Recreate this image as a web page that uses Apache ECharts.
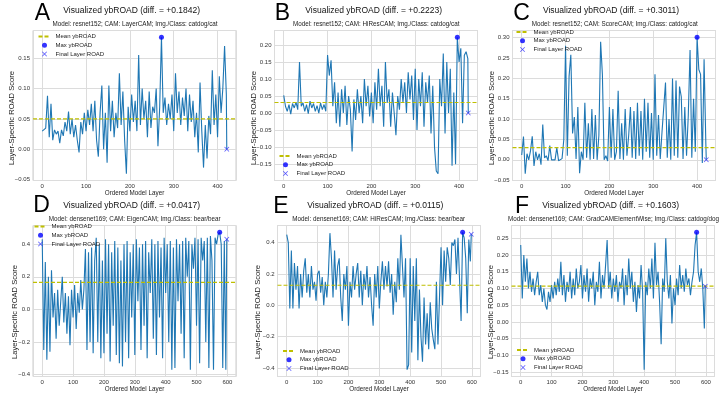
<!DOCTYPE html>
<html>
<head>
<meta charset="utf-8">
<script src="https://cdn.jsdelivr.net/npm/echarts@6/dist/echarts.min.js"></script>
<style>
  html, body { margin: 0; padding: 0; background: #fff; }
  #chart { width: 727px; height: 397px; }
</style>
</head>
<body>
<div id="chart"></div>
<script>
// layers are sampled: resnet152 panels every 4 layers, densenet169 panels every 5 layers
var stepResnet = 4;
var stepDensenet = 5;
var lastLayerResnet = 421;
var lastLayerDensenet = 598;

var roadA = [0.030,0.028,0.035,0.088,0.020,0.075,0.015,0.032,0.025,0.030,
  0.010,0.032,0.022,0.045,0.030,0.062,0.025,0.050,0.020,0.040,
  0.015,-0.005,0.045,0.025,0.060,0.030,0.065,0.040,0.075,0.030,
  0.080,0.015,-0.012,0.060,0.105,0.000,0.060,-0.022,0.105,0.030,
  0.080,0.020,0.060,0.035,0.125,0.040,0.095,0.015,-0.040,0.070,
  0.030,0.090,0.045,0.080,0.030,0.155,0.040,0.100,0.050,0.080,
  0.020,0.095,0.035,0.070,0.060,0.100,0.005,0.070,0.1842,0.060,
  0.085,0.040,0.075,0.050,0.090,0.030,0.125,0.060,0.095,0.040,
  0.085,0.055,0.100,0.030,0.090,0.045,0.080,0.020,0.060,-0.005,
  0.110,0.030,-0.030,0.040,-0.015,0.055,0.025,0.130,0.040,0.090,
  0.020,0.120,0.060,0.100,0.170,0.090];
var roadB = [0.052,0.020,0.005,0.025,-0.003,0.028,0.015,0.032,0.010,0.150,
  0.020,0.030,0.005,0.025,-0.002,0.035,0.015,0.028,0.005,0.022,
  0.000,0.030,0.010,0.025,0.005,0.170,0.110,0.155,0.020,0.090,
  -0.030,0.060,-0.040,0.070,0.000,0.080,-0.035,0.050,0.010,-0.113,
  0.040,-0.020,0.070,0.000,0.050,-0.030,0.100,0.020,0.080,-0.010,
  0.060,-0.030,0.090,0.010,0.130,0.020,0.080,-0.040,0.150,0.030,
  0.070,-0.040,0.060,0.000,-0.065,0.050,0.010,0.100,0.030,0.090,
  0.000,0.120,0.040,0.110,-0.020,0.130,-0.050,0.100,0.020,0.120,
  -0.040,0.090,0.030,0.110,-0.060,0.080,-0.100,-0.170,-0.178,0.100,
  0.020,0.175,-0.060,0.150,0.000,0.130,-0.155,0.060,-0.150,0.2223,
  0.150,0.190,-0.030,0.170,0.180,0.160];
var roadC = [0.012,0.057,-0.034,0.015,0.000,0.022,0.058,-0.015,0.020,0.000,
  0.015,-0.012,0.087,0.005,0.010,-0.002,0.035,0.000,0.002,0.000,
  0.030,-0.002,0.000,0.003,0.050,0.280,0.010,0.205,0.258,0.065,
  0.105,0.002,0.130,-0.033,0.020,0.000,0.140,0.005,0.090,0.000,
  0.125,0.002,0.110,0.000,0.060,0.290,0.210,0.000,0.010,-0.003,
  0.130,0.005,0.125,0.000,0.020,0.170,0.002,0.090,0.000,0.125,
  0.010,0.060,0.130,0.005,0.120,0.002,0.140,0.010,0.120,0.000,
  0.150,0.020,0.140,0.005,0.115,0.000,0.210,0.010,0.110,0.002,
  0.068,0.065,0.190,0.005,0.100,0.000,0.200,0.010,0.195,0.005,
  0.180,0.155,0.002,0.130,0.010,0.110,0.270,0.005,0.150,0.020,
  0.301,0.222,0.210,-0.008,0.247,0.040];
var roadD = [0.43,-0.25,0.29,-0.31,0.20,-0.26,0.24,-0.05,0.10,-0.18,
  0.12,-0.10,0.05,0.20,-0.08,0.10,-0.15,0.08,-0.22,0.12,
  -0.05,0.15,-0.12,0.10,-0.02,0.18,0.00,0.12,0.37,-0.25,
  0.35,-0.20,0.38,-0.27,0.30,0.44,-0.20,0.40,-0.30,0.30,
  -0.27,0.43,-0.15,0.40,-0.32,0.35,-0.10,0.42,-0.28,0.38,
  -0.33,0.30,-0.35,0.40,-0.20,0.42,-0.30,0.35,-0.05,0.40,
  -0.28,0.43,0.05,0.38,-0.25,0.40,-0.10,0.42,-0.30,0.35,
  0.10,0.43,-0.18,0.40,-0.28,0.42,-0.05,0.38,-0.30,0.44,
  0.10,0.40,-0.20,0.42,-0.37,0.38,-0.36,0.43,0.05,0.40,
  -0.15,0.42,-0.30,0.44,0.20,0.42,-0.37,0.40,0.25,0.44,
  -0.10,0.43,-0.33,0.44,0.30,0.42,-0.20,0.44,-0.36,0.45,
  0.30,-0.37,0.44,0.40,0.46,0.4727,0.40,-0.36,0.42,-0.37];
var roadE = [0.45,0.40,-0.02,0.35,-0.02,0.27,0.10,0.25,-0.02,0.20,
  0.05,0.22,0.30,0.08,0.20,0.05,0.25,0.10,0.15,0.03,
  0.20,0.22,0.08,0.18,0.00,0.15,0.05,0.20,0.46,0.30,
  0.05,0.35,0.10,0.25,0.30,0.05,-0.10,0.20,0.10,0.25,
  -0.13,0.15,0.05,0.25,0.10,0.20,0.27,0.05,0.22,0.00,
  0.20,0.10,0.25,0.05,0.18,0.00,-0.13,0.20,0.05,0.25,
  -0.02,0.15,0.28,0.10,0.25,0.12,0.28,0.08,0.20,-0.06,
  0.15,0.02,0.30,0.10,0.45,0.46,0.05,0.30,-0.41,-0.38,
  0.30,-0.30,0.25,-0.10,0.30,-0.35,0.10,-0.20,-0.36,0.05,
  -0.25,-0.05,-0.28,0.02,-0.15,-0.22,-0.28,0.15,-0.25,0.05,
  0.37,0.00,0.35,0.15,0.37,0.30,0.13,0.40,0.38,0.42,
  0.20,0.43,0.42,-0.10,0.465,0.43,0.30,-0.05,0.42,0.28];
var roadF = [0.23,0.07,0.20,0.12,0.19,0.10,0.15,0.09,0.13,0.08,
  0.12,0.15,0.08,0.11,0.06,0.10,0.05,0.037,0.09,0.06,
  0.11,0.07,0.12,0.08,0.13,0.09,0.18,0.08,0.14,0.06,
  0.12,0.09,0.15,0.07,0.13,0.08,0.16,0.10,0.12,0.17,
  0.07,0.14,0.09,0.16,0.06,0.13,0.10,0.15,0.05,0.12,
  0.09,0.18,0.07,0.14,0.10,0.17,0.245,0.10,0.15,0.07,
  0.13,0.09,0.14,0.06,0.12,0.10,0.16,0.05,0.14,0.08,
  0.19,0.10,0.15,0.06,0.12,0.03,0.11,0.07,0.17,0.09,
  -0.143,0.12,0.08,0.16,0.10,0.19,0.07,0.237,0.11,0.15,
  0.06,-0.067,0.13,0.09,0.25,0.12,0.07,0.14,-0.005,0.10,
  0.05,0.13,0.08,0.17,0.10,0.14,0.09,0.16,0.11,0.13,
  0.08,0.12,0.15,0.23,0.268,0.15,0.12,0.16,0.10,-0.02];

// final layer ROAD and mean ybROAD per panel
var finalRoad = [0.0, 0.0, 0.0, 0.431, 0.4535, 0.107];
var meanRoad = [0.050, 0.031, 0.030, 0.166, 0.128, 0.107];
var letters = ['A', 'B', 'C', 'D', 'E', 'F'];
var diffs = ['+0.1842', '+0.2223', '+0.3011', '+0.0417', '+0.0115', '+0.1603'];
var subtitles = [
  'Model: resnet152; CAM: LayerCAM; Img./Class: catdog/cat',
  'Model: resnet152; CAM: HiResCAM; Img./Class: catdog/cat',
  'Model: resnet152; CAM: ScoreCAM; Img./Class: catdog/cat',
  'Model: densenet169; CAM: EigenCAM; Img./Class: bear/bear',
  'Model: densenet169; CAM: HiResCAM; Img./Class: bear/bear',
  'Model: densenet169; CAM: GradCAMElementWise; Img./Class: catdog/dog'
];
var yTickStep = [0.05, 0.05, 0.05, 0.2, 0.2, 0.05];

var series = [roadA, roadB, roadC, roadD, roadE, roadF];
var steps = [stepResnet, stepResnet, stepResnet, stepDensenet, stepDensenet, stepDensenet];
var lastLayers = [lastLayerResnet, lastLayerResnet, lastLayerResnet, lastLayerDensenet, lastLayerDensenet, lastLayerDensenet];

// layout of each subplot (px)
var layout = [
  { left: 33, top: 30.5, width: 203, height: 150, titleX: 131.7, subX: 135, titleY: 10.8, subY: 24.2, letterX: 42.5, letterY: 13.3, legL: 37.5, legT: 33.5, yNameX: 11.5, yNameY: 118 },
  { left: 274.5, top: 30.5, width: 203, height: 150, titleX: 373.7, subX: 376.2, titleY: 10.8, subY: 24.2, letterX: 282.5, letterY: 13.3, legL: 278.5, legT: 153, yNameX: 254.3, yNameY: 118 },
  { left: 512.5, top: 30.5, width: 203, height: 150, titleX: 611, subX: 614.8, titleY: 10.8, subY: 24.2, letterX: 521.5, letterY: 13.3, legL: 515.5, legT: 29, yNameX: 491.5, yNameY: 118 },
  { left: 33, top: 225.5, width: 203, height: 151, titleX: 131.7, subX: 134.7, titleY: 205.5, subY: 219, letterX: 41.5, letterY: 206, legL: 33.5, legT: 223.5, yNameX: 15, yNameY: 312 },
  { left: 277.5, top: 225.5, width: 203, height: 151, titleX: 375.3, subX: 378.7, titleY: 205.5, subY: 219, letterX: 281, letterY: 207, legL: 282, legT: 348, yNameX: 258, yNameY: 312 },
  { left: 511.5, top: 225.5, width: 203, height: 151, titleX: 610.7, subX: 613.5, titleY: 205.5, subY: 219, letterX: 522, letterY: 207, legL: 516, legT: 347, yNameX: 490.7, yNameY: 312 }
];

var FONT = '"Liberation Sans", Arial, sans-serif';
var xMark = 'path://M0,1L1,0L5,4L9,0L10,1L6,5L10,9L9,10L5,6L1,10L0,9L4,5Z';

function tickFormatter(stepV, dec) {
  return function (v) {
    if (Math.abs(v / stepV - Math.round(v / stepV)) > 1e-6) return '';
    if (Math.abs(v) < 1e-9) v = 0;
    return v.toFixed(dec).replace('-', '\u2212');
  };
}

function label(x, y, text, size, color, rotation) {
  return {
    type: 'text', x: x, y: y, rotation: rotation || 0, silent: true,
    style: { text: text, fontSize: size, fontFamily: FONT, fill: color,
      align: 'center', verticalAlign: 'middle', textAlign: 'center', textVerticalAlign: 'middle' }
  };
}

var myChart = echarts.init(document.getElementById('chart'));
var option = {
  animation: false,
  backgroundColor: '#fff',
  textStyle: { fontFamily: FONT },
  grid: [], xAxis: [], yAxis: [], series: [], legend: [], graphic: []
};

series.forEach(function (vals, i) {
  var L = layout[i];
  var pts = vals.map(function (v, k) { return [k * steps[i], v]; });
  pts.push([lastLayers[i], finalRoad[i]]);
  var ys = pts.map(function (d) { return d[1]; });
  var yMin = Math.min.apply(null, ys), yMax = Math.max.apply(null, ys);
  var yPad = (yMax - yMin) * 0.05;
  var xPad = lastLayers[i] * 0.05;
  var xMin = -xPad, xMax = lastLayers[i] + xPad;
  var maxPt = pts[ys.indexOf(yMax)];
  var dec = yTickStep[i] >= 0.1 ? 1 : 2;

  option.grid.push({
    left: L.left, top: L.top, width: L.width, height: L.height,
    show: true, borderColor: '#cccccc', borderWidth: 1
  });
  option.xAxis.push({
    gridIndex: i, type: 'value', min: xMin, max: xMax,
    minInterval: 100, maxInterval: 100,
    axisLine: { show: false }, axisTick: { show: false },
    axisLabel: { fontSize: 6, color: '#333', margin: 3, formatter: tickFormatter(100, 0) },
    splitLine: { lineStyle: { color: '#dcdcdc', width: 1 } },
    name: 'Ordered Model Layer', nameLocation: 'middle', nameGap: 9,
    nameTextStyle: { fontSize: 6.3, color: '#222' }
  });
  option.yAxis.push({
    gridIndex: i, type: 'value', min: yMin - yPad, max: yMax + yPad,
    minInterval: yTickStep[i], maxInterval: yTickStep[i],
    axisLine: { show: false }, axisTick: { show: false },
    axisLabel: { fontSize: 6, color: '#333', margin: 3, formatter: tickFormatter(yTickStep[i], dec) },
    splitLine: { lineStyle: { color: '#dcdcdc', width: 1 } }
  });

  option.series.push({
    name: 'ybROAD', type: 'line', xAxisIndex: i, yAxisIndex: i,
    data: pts, showSymbol: false, symbol: 'none',
    lineStyle: { color: '#1f77b4', width: 1.1 }, z: 2
  });
  option.series.push({
    name: 'Mean ybROAD', type: 'line', xAxisIndex: i, yAxisIndex: i,
    data: [[xMin, meanRoad[i]], [xMax, meanRoad[i]]], showSymbol: false, symbol: 'none',
    itemStyle: { color: '#bfbf00' },
    lineStyle: { color: '#bfbf00', width: 1.2, type: [4, 2] }, z: 3
  });
  option.series.push({
    name: 'Max ybROAD', type: 'scatter', xAxisIndex: i, yAxisIndex: i,
    data: [maxPt], symbol: 'circle', symbolSize: 5,
    itemStyle: { color: '#0000ff' }, z: 4
  });
  option.series.push({
    name: 'Final Layer ROAD', type: 'scatter', xAxisIndex: i, yAxisIndex: i,
    data: [[lastLayers[i], finalRoad[i]]], symbol: xMark, symbolSize: 5,
    itemStyle: { color: '#2222ff' }, z: 4
  });

  option.legend.push({
    data: [
      { name: 'Mean ybROAD', itemStyle: { opacity: 0 } },
      'Max ybROAD',
      'Final Layer ROAD'
    ],
    orient: 'vertical', left: L.legL, top: L.legT, padding: 0,
    itemWidth: 12, itemHeight: 5, itemGap: 2.8, selectedMode: false,
    textStyle: { fontSize: 6, color: '#222' }
  });

  option.graphic.push(label(L.titleX, L.titleY, 'Visualized ybROAD (diff. = ' + diffs[i] + ')', 8.5, '#111'));
  option.graphic.push(label(L.subX, L.subY, subtitles[i], 6.3, '#222'));
  option.graphic.push(label(L.letterX, L.letterY, letters[i], 23, '#000'));
  option.graphic.push(label(L.yNameX, L.yNameY, 'Layer-Specific ROAD Score', 7.6, '#222', Math.PI / 2));
});

myChart.setOption(option);
window.addEventListener('resize', function () {
  myChart.resize();
});
</script>
</body>
</html>
